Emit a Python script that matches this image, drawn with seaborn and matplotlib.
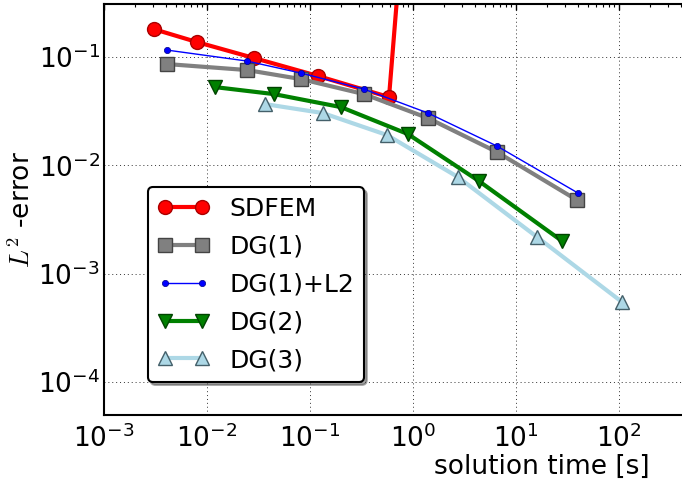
import matplotlib
matplotlib.use("Agg")
import matplotlib.pyplot as plt
import seaborn as sns
import numpy as np
import pandas as pd

# ---- data ----
sdfem_t = [0.00305, 0.0080, 0.0286, 0.120, 0.585, 0.93]
sdfem_e = [0.181, 0.1375, 0.098, 0.0668, 0.0427, 10.0]

dg1_t = [0.00409, 0.0244, 0.0818, 0.334, 1.40, 6.54, 39.1]
dg1_e = [0.0862, 0.0759, 0.0626, 0.0455, 0.0273, 0.01327, 0.00478]

dg1l2_t = [0.00409, 0.0244, 0.0818, 0.334, 1.40, 6.54, 40.0]
dg1l2_e = [0.116, 0.0919, 0.0711, 0.0506, 0.0304, 0.01507, 0.00555]

dg2_t = [0.01197, 0.0447, 0.200, 0.893, 4.37, 28.0]
dg2_e = [0.0528, 0.0455, 0.0345, 0.01945, 0.00716, 0.0020]

dg3_t = [0.0366, 0.1336, 0.560, 2.73, 16.0, 107.0]
dg3_e = [0.0368, 0.0304, 0.01905, 0.0078, 0.00218, 0.000547]

labels = ["SDFEM", "DG(1)", "DG(1)+L2", "DG(2)", "DG(3)"]

sns.set_style("white")
plt.rcParams['font.family'] = ['DejaVu Sans']
plt.rcParams['mathtext.fontset'] = 'cm'
for k in ['text.color', 'axes.labelcolor', 'xtick.color', 'ytick.color']:
    plt.rcParams[k] = 'black'

fig = plt.figure(figsize=(6.82, 4.9), dpi=100)
ax = fig.add_axes([104/682, 75/490, 5.75*103/682, 411/490])

styles = [
    dict(color="red", lw=3, marker="o", ms=10, mfc="red", mec="#aa0000", mew=1),
    dict(color="gray", lw=3, marker="s", ms=10, mfc="gray", mec="#444444", mew=1),
    dict(color="blue", lw=1, marker="o", ms=4.5, mfc="blue", mec="#000088", mew=0.5),
    dict(color="green", lw=3, marker="v", ms=10, mfc="green", mec="#004400", mew=1),
    dict(color="lightblue", lw=3, marker="^", ms=10, mfc="lightblue", mec="#44606a", mew=1),
]
series = [(sdfem_t, sdfem_e), (dg1_t, dg1_e), (dg1l2_t, dg1l2_e), (dg2_t, dg2_e), (dg3_t, dg3_e)]

for (t, e), lab, st in zip(series, labels, styles):
    df = pd.DataFrame({"t": t, "e": e})
    sns.lineplot(data=df, x="t", y="e", ax=ax, label=lab, estimator=None,
                 color=st["color"], linewidth=st["lw"], marker=st["marker"],
                 markersize=st["ms"], markerfacecolor=st["mfc"],
                 markeredgecolor=st["mec"], markeredgewidth=st["mew"])

ax.set_xscale("log")
ax.set_yscale("log")
ax.set_xlim(1e-3, 10**2.75)
ax.set_ylim(10**-4.305, 10**-0.51)

ax.grid(True, which="major", color="#333333", linestyle=(0, (1, 3)), linewidth=0.7)
ax.tick_params(which="both", direction="in", top=True, right=True, labelsize=19,
               colors="black")
ax.tick_params(axis="x", which="major", pad=7)
ax.tick_params(axis="y", which="major", pad=3)
ax.tick_params(which="major", length=4, width=1)
ax.tick_params(which="minor", length=2, width=0.8)
for s in ax.spines.values():
    s.set_color("black")
    s.set_linewidth(1.5)
    s.set_visible(True)

ax.set_xlabel("solution time [s]", fontsize=19, color="black")
ax.xaxis.set_label_coords(0.74, -0.095)
ax.set_ylabel("$L^2$ -error", fontsize=19, color="black")
ax.yaxis.set_label_coords(-0.115, 0.5)

leg = ax.legend(loc="lower left", bbox_to_anchor=(0.074, 0.08), borderaxespad=0,
                fontsize=18, fancybox=True, shadow=True, frameon=True, numpoints=2,
                handlelength=2.05, labelspacing=0.55, borderpad=0.4, handletextpad=0.8)
leg.get_frame().set_edgecolor("black")
leg.get_frame().set_linewidth(1.5)
leg.get_frame().set_alpha(1)
for txt in leg.get_texts():
    txt.set_color("black")

fig.savefig("out.png", dpi=100)
